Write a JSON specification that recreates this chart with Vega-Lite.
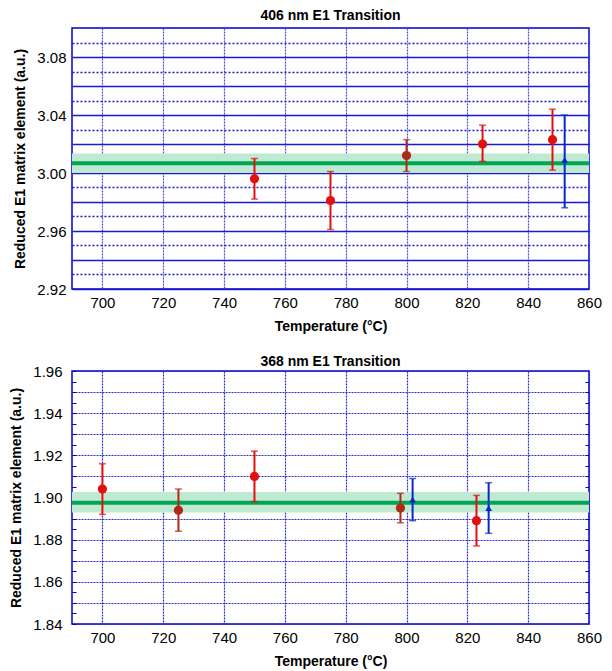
{
  "$schema": "https://vega.github.io/schema/vega-lite/v6.json",
  "background": "white",
  "padding": {"left": 9, "top": 8, "right": 4, "bottom": 0},
  "spacing": 20,
  "config": {
    "font": "Liberation Sans",
    "view": {"stroke": "#0000cc", "strokeWidth": 1.5},
    "title": {"fontSize": 14, "fontWeight": "bold", "color": "black", "offset": 5},
    "axis": {"labelFontSize": 15, "labelColor": "black", "titleFontSize": 14, "titleFontWeight": "bold", "titleColor": "black", "domain": false, "ticks": false, "labelPadding": 6, "titlePadding": 9, "gridOpacity": 1, "labelOverlap": false, "labelFlush": false}
  },
  "datasets": {
    "top": [
      {"T": 750, "value": 2.996, "lo": 2.982, "hi": 3.010, "set": "run 1"},
      {"T": 775, "value": 2.981, "lo": 2.961, "hi": 3.001, "set": "run 1"},
      {"T": 800, "value": 3.012, "lo": 3.001, "hi": 3.023, "set": "run 2"},
      {"T": 825, "value": 3.020, "lo": 3.008, "hi": 3.033, "set": "run 1"},
      {"T": 848, "value": 3.023, "lo": 3.002, "hi": 3.044, "set": "run 1"},
      {"T": 852, "value": 3.009, "lo": 2.976, "hi": 3.040, "set": "reference"}
    ],
    "topfit": [{"mean": 3.0067, "lo": 3.000, "hi": 3.0135}],
    "bottom": [
      {"T": 700, "value": 1.904, "lo": 1.892, "hi": 1.916, "set": "run 1"},
      {"T": 725, "value": 1.894, "lo": 1.884, "hi": 1.904, "set": "run 2"},
      {"T": 750, "value": 1.910, "lo": 1.898, "hi": 1.922, "set": "run 1"},
      {"T": 798, "value": 1.895, "lo": 1.888, "hi": 1.902, "set": "run 2"},
      {"T": 802, "value": 1.899, "lo": 1.889, "hi": 1.909, "set": "reference"},
      {"T": 823, "value": 1.889, "lo": 1.877, "hi": 1.901, "set": "run 1"},
      {"T": 827, "value": 1.895, "lo": 1.883, "hi": 1.907, "set": "reference"}
    ],
    "bottomfit": [{"mean": 1.8975, "lo": 1.8929, "hi": 1.9026}]
  },
  "vconcat": [
    {
      "title": "406 nm E1 Transition",
      "width": 517,
      "height": 261,
      "resolve": {"axis": {"y": "independent"}},
      "layer": [
        {
          "data": {"name": "topfit"},
          "mark": {"type": "rect", "color": "#bfe9d3"},
          "encoding": {
            "y": {"field": "lo", "type": "quantitative", "scale": {"domain": [2.92, 3.10], "nice": false, "zero": false},
              "title": "Reduced E1 matrix element (a.u.)",
              "axis": {
                "orient": "left",
                "values": [2.92, 2.93, 2.94, 2.95, 2.96, 2.97, 2.98, 2.99, 3.00, 3.01, 3.02, 3.03, 3.04, 3.05, 3.06, 3.07, 3.08, 3.09],
                "tickCount": 100,
                "labelExpr": "round(datum.value*100) % 4 === 0 ? format(datum.value, '.2f') : ''",
                "gridColor": "#1a1ad0",
                "gridDash": {"condition": {"test": "round(datum.value*100) % 2 === 0", "value": [1, 0]}, "value": [2, 2]},
                "gridWidth": 1.3
              }
            },
            "y2": {"field": "hi"}
          }
        },
        {
          "data": {"name": "topfit"},
          "mark": {"type": "rule", "color": "#00a651", "strokeWidth": 4},
          "encoding": {"y": {"field": "mean", "type": "quantitative", "axis": null}}
        },
        {
          "data": {"name": "top"},
          "mark": {"type": "rule", "strokeWidth": 2},
          "encoding": {
            "x": {"field": "T", "type": "quantitative", "scale": {"domain": [690, 860], "nice": false, "zero": false},
              "title": "Temperature (°C)",
              "axis": {"values": [700, 720, 740, 760, 780, 800, 820, 840, 860], "tickCount": 100, "gridColor": "#4a4ae6", "gridDash": [2, 1], "gridWidth": 1.2}
            },
            "y": {"field": "lo", "type": "quantitative", "axis": null},
            "y2": {"field": "hi"},
            "color": {"field": "set", "type": "nominal", "scale": {"domain": ["run 1", "run 2", "reference"], "range": ["#e31010", "#b0281a", "#0a28c8"]}, "legend": null}
          }
        },
        {
          "data": {"name": "top"},
          "mark": {"type": "tick", "orient": "horizontal", "size": 7, "thickness": 1.5},
          "encoding": {
            "x": {"field": "T", "type": "quantitative"},
            "y": {"field": "lo", "type": "quantitative", "axis": null},
            "color": {"field": "set", "type": "nominal", "legend": null}
          }
        },
        {
          "data": {"name": "top"},
          "mark": {"type": "tick", "orient": "horizontal", "size": 7, "thickness": 1.5},
          "encoding": {
            "x": {"field": "T", "type": "quantitative"},
            "y": {"field": "hi", "type": "quantitative", "axis": null},
            "color": {"field": "set", "type": "nominal", "legend": null}
          }
        },
        {
          "data": {"name": "top"},
          "transform": [{"filter": "datum.set !== 'reference'"}],
          "mark": {"type": "point", "shape": "circle", "filled": true, "opacity": 1, "size": 85},
          "encoding": {
            "x": {"field": "T", "type": "quantitative"},
            "y": {"field": "value", "type": "quantitative", "axis": null},
            "color": {"field": "set", "type": "nominal", "legend": null}
          }
        },
        {
          "data": {"name": "top"},
          "transform": [{"filter": "datum.set === 'reference'"}],
          "mark": {"type": "point", "shape": "triangle-up", "filled": true, "opacity": 1, "size": 45},
          "encoding": {
            "x": {"field": "T", "type": "quantitative"},
            "y": {"field": "value", "type": "quantitative", "axis": null},
            "color": {"field": "set", "type": "nominal", "legend": null}
          }
        }
      ]
    },
    {
      "title": {"text": "368 nm E1 Transition", "offset": -5},
      "width": 517,
      "height": 253,
      "resolve": {"axis": {"y": "independent"}},
      "layer": [
        {
          "data": {"name": "bottomfit"},
          "mark": {"type": "rect", "color": "#bfe9d3"},
          "encoding": {
            "y": {"field": "lo", "type": "quantitative", "scale": {"domain": [1.84, 1.96], "nice": false, "zero": false},
              "title": "Reduced E1 matrix element (a.u.)",
              "axis": {
                "orient": "left",
                "values": [1.84, 1.845, 1.85, 1.855, 1.86, 1.865, 1.87, 1.875, 1.88, 1.885, 1.89, 1.895, 1.9, 1.905, 1.91, 1.915, 1.92, 1.925, 1.93, 1.935, 1.94, 1.945, 1.95, 1.955, 1.96],
                "tickCount": 100,
                "labelExpr": "round(datum.value*1000) % 20 === 0 ? format(datum.value, '.2f') : ''",
                "gridOpacity": {"condition": {"test": "round(datum.value*1000) % 10 === 0", "value": 1}, "value": 0},
                "gridColor": "#2a2ad8",
                "gridDash": [2, 1],
                "gridWidth": 1.2,
                "ticks": true,
                "tickSize": 4,
                "offset": -4,
                "tickColor": "#0000cc",
                "tickWidth": 1,
                "labelPadding": 10
              }
            },
            "y2": {"field": "hi"}
          }
        },
        {
          "data": {"name": "bottomfit"},
          "mark": {"type": "rule", "color": "#00a651", "strokeWidth": 4},
          "encoding": {"y": {"field": "mean", "type": "quantitative", "title": null,
            "axis": {
              "orient": "right",
              "values": [1.845, 1.85, 1.855, 1.86, 1.865, 1.87, 1.875, 1.88, 1.885, 1.89, 1.895, 1.9, 1.905, 1.91, 1.915, 1.92, 1.925, 1.93, 1.935, 1.94, 1.945, 1.95, 1.955],
              "tickCount": 100,
              "labels": false,
              "grid": false,
              "ticks": true,
              "tickSize": 4,
              "offset": -4,
              "tickColor": "#0000cc",
              "tickWidth": 1,
              "minExtent": 0,
              "maxExtent": 0
            }}}
        },
        {
          "data": {"name": "bottom"},
          "mark": {"type": "rule", "strokeWidth": 2},
          "encoding": {
            "x": {"field": "T", "type": "quantitative", "scale": {"domain": [690, 860], "nice": false, "zero": false},
              "title": "Temperature (°C)",
              "axis": {"values": [700, 720, 740, 760, 780, 800, 820, 840, 860], "tickCount": 100, "gridColor": "#2a2ad8", "gridDash": [2, 1], "gridWidth": 1.2}
            },
            "y": {"field": "lo", "type": "quantitative", "axis": null},
            "y2": {"field": "hi"},
            "color": {"field": "set", "type": "nominal", "scale": {"domain": ["run 1", "run 2", "reference"], "range": ["#e31010", "#b0281a", "#0a28c8"]}, "legend": null}
          }
        },
        {
          "data": {"name": "bottom"},
          "mark": {"type": "tick", "orient": "horizontal", "size": 7, "thickness": 1.5},
          "encoding": {
            "x": {"field": "T", "type": "quantitative"},
            "y": {"field": "lo", "type": "quantitative", "axis": null},
            "color": {"field": "set", "type": "nominal", "legend": null}
          }
        },
        {
          "data": {"name": "bottom"},
          "mark": {"type": "tick", "orient": "horizontal", "size": 7, "thickness": 1.5},
          "encoding": {
            "x": {"field": "T", "type": "quantitative"},
            "y": {"field": "hi", "type": "quantitative", "axis": null},
            "color": {"field": "set", "type": "nominal", "legend": null}
          }
        },
        {
          "data": {"name": "bottom"},
          "transform": [{"filter": "datum.set !== 'reference'"}],
          "mark": {"type": "point", "shape": "circle", "filled": true, "opacity": 1, "size": 85},
          "encoding": {
            "x": {"field": "T", "type": "quantitative"},
            "y": {"field": "value", "type": "quantitative", "axis": null},
            "color": {"field": "set", "type": "nominal", "legend": null}
          }
        },
        {
          "data": {"name": "bottom"},
          "transform": [{"filter": "datum.set === 'reference'"}],
          "mark": {"type": "point", "shape": "triangle-up", "filled": true, "opacity": 1, "size": 45},
          "encoding": {
            "x": {"field": "T", "type": "quantitative"},
            "y": {"field": "value", "type": "quantitative", "axis": null},
            "color": {"field": "set", "type": "nominal", "legend": null}
          }
        }
      ]
    }
  ]
}
